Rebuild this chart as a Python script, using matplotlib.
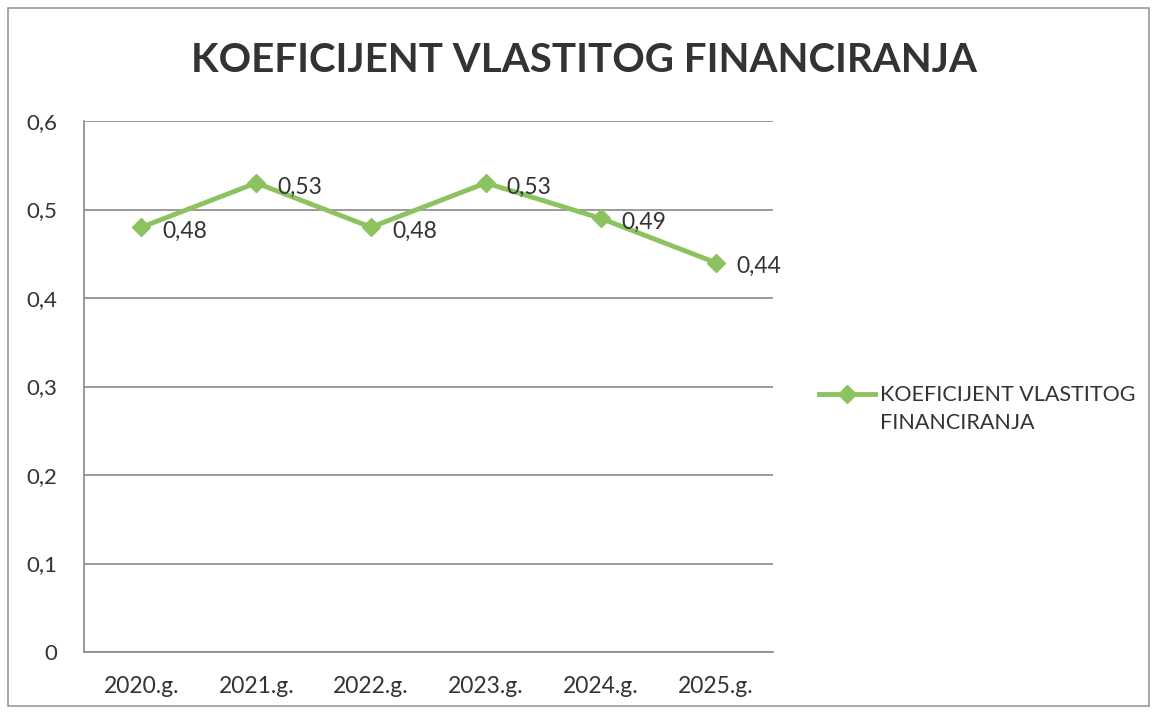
import matplotlib
matplotlib.use("Agg")
import matplotlib.pyplot as plt
import numpy as np
from matplotlib.patches import Rectangle
from matplotlib.lines import Line2D

categories = ["2020.g.", "2021.g.", "2022.g.", "2023.g.", "2024.g.", "2025.g."]
values = [0.48, 0.53, 0.48, 0.53, 0.49, 0.44]
value_labels = ["0,48", "0,53", "0,48", "0,53", "0,49", "0,44"]
yticks = [0, 0.1, 0.2, 0.3, 0.4, 0.5, 0.6]
ytick_labels = ["0", "0,1", "0,2", "0,3", "0,4", "0,5", "0,6"]
title = "KOEFICIJENT VLASTITOG FINANCIRANJA"
series_name = "KOEFICIJENT VLASTITOG\nFINANCIRANJA"

W, H = 1153, 713
fig = plt.figure(figsize=(W / 100, H / 100), dpi=100)
plt.rcParams['font.family'] = ['Lato', 'DejaVu Sans']

green = "#8CC35E"
txt = "#333333"

# outer chart border
fig.patches.append(Rectangle((8 / W, 1 - 706 / H), (1149 - 8) / W, (706 - 8) / H,
                             transform=fig.transFigure, fill=False,
                             edgecolor="#9a9a9a", linewidth=1.2))

left, right, top, bottom = 84, 773, 121, 652
ax = fig.add_axes([left / W, 1 - bottom / H, (right - left) / W, (bottom - top) / H])

x = list(range(len(categories)))
ax.plot(x, values, color=green, linewidth=3.5, marker="D", markersize=9,
        markerfacecolor=green, markeredgecolor=green, zorder=3)
for xi, v, lab in zip(x, values, value_labels):
    ax.annotate(lab, (xi, v), xytext=(15, -3), textcoords="offset points",
                ha="left", va="center", fontsize=16.5, color=txt)

ax.set_xlim(-0.5, len(categories) - 0.5)
ax.set_ylim(0, 0.6)
ax.set_yticks(yticks)
ax.set_yticklabels(ytick_labels, fontsize=16, color=txt)
ax.set_xticks(x)
ax.set_xticklabels(categories, fontsize=16.5, color=txt)
ax.tick_params(axis="both", length=0)
ax.tick_params(axis="y", pad=19)
ax.tick_params(axis="x", pad=17)
ax.grid(axis="y", color="#8a8a8a", linewidth=1.2)
ax.set_axisbelow(True)
for s in ["top", "right"]:
    ax.spines[s].set_visible(False)
for s in ["left", "bottom"]:
    ax.spines[s].set_color("#8a8a8a")
    ax.spines[s].set_linewidth(1.2)

fig.text(584 / W, 1 - 60 / H, title, ha="center", va="center",
         fontsize=29, fontweight="bold", color="#333333")

handle = Line2D([], [], color=green, linewidth=3.5, marker="D", markersize=9,
                markerfacecolor=green, markeredgecolor=green)
leg = fig.legend([handle], [series_name], loc="center left",
                 bbox_to_anchor=(800 / W, 1 - 409 / H), frameon=False,
                 fontsize=15.5, handlelength=2.6, handletextpad=0.2, labelcolor=txt)
leg.get_texts()[0].set_linespacing(1.45)
# align the legend key with the first line of the label
lh = leg.legend_handles[0]
lh.set_ydata(np.asarray(lh.get_ydata(), dtype=float) + 11.0)

fig.savefig("out.png", dpi=100)
